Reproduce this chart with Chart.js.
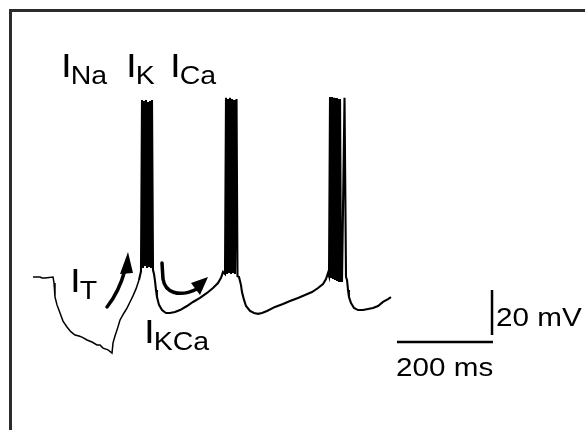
<!DOCTYPE html>
<html>
<head>
<meta charset="utf-8">
<script src="https://cdn.jsdelivr.net/npm/chart.js@4/dist/chart.umd.min.js"></script>
<style>
  body { margin: 0; background: #fff; }
  #wrap { position: relative; width: 585px; height: 430px; overflow: hidden; }
</style>
</head>
<body>
<div id="wrap"><canvas id="trace" width="585" height="430"></canvas></div>
<script>
// membrane potential trace (time in ms, potential in mV)
const timeMs = [
  0, 14.6, 18.8, 25, 41.7, 43.8, 45.8, 50, 56.3, 62.5, 70.8, 79.2, 87.5, 95.8, 102.1,
  112.5, 122.9, 133.3, 139.6, 145.8, 156.3, 164.6,
  166.7, 170.8, 175, 181.3, 189.6, 195.8, 202.1, 208.3, 214.6, 220.8,
  // burst 1
  225, 227.1, 229.2, 231.3, 233.3, 235.4, 237.5, 239.6, 241.7, 243.8, 245.8, 247.9, 250,
  252.1, 254.2, 256.3, 258.3, 262.5, 268.8, 277.1, 285.4, 295.8, 306.3, 320.8,
  333.3, 347.9, 362.5, 375, 385.4, 391.7, 395.8,
  // burst 2
  400, 402.1, 404.2, 406.3, 408.3, 410.4, 412.5, 414.6, 416.7, 418.8, 420.8, 424, 426,
  429.2, 433.3, 435.4, 439.6, 443.8, 452.1, 460.4, 468.8, 477.1, 487.5, 504.2, 520.8,
  535.4, 552.1, 566.7, 581.3, 593.8, 604.2, 610.4, 614.6,
  // burst 3
  616.7, 618.8, 620.8, 622.9, 625, 627.1, 629.2, 631.3, 633.3, 635.4, 637.5, 639.6,
  641.7, 643.8, 649, 652.1,
  654.2, 656.3, 658.3, 662.5, 668.8, 677.1, 687.5, 697.9, 708.3, 718.8, 729.2, 739.6, 745.8
];
const voltageMv = [
  -60, -60, -60.4, -60.4, -60, -62.7, -68.9, -72.4, -76, -79.6, -82.2, -84.4, -85.8, -86.2, -86.7,
  -88, -88.9, -90.2, -90.2, -91.6, -92.4, -93.8,
  -89.3, -86.2, -83.6, -79.1, -76, -73.8, -71.1, -68.4, -65.3, -61.3,
  -57.5, 18.7, -56, 18.2, -55.1, 18.7, -56, 17.8, -55.6, 18.2, -56, 18.7, -56.9,
  -58.7, -61.8, -65.8, -68.9, -72.4, -74.7, -76, -76, -75.6, -74.7, -72.9,
  -71.1, -69.3, -67.1, -64.9, -62.7, -60.4, -57.8,
  -58.7, 19.6, -58.7, 19.1, -58.2, 19.6, -58.7, 19.1, -58.2, 18.7, -58.7, 19.1, -59.6,
  -60, -63.6, -66.7, -70.2, -72.9, -75.1, -76, -76.4, -76, -75.1, -73.3, -72,
  -70.7, -69.3, -68, -66.7, -64.9, -63.1, -60.9, -58.2,
  -59.6, 20, -60.4, 20, -60.9, 19.6, -61.3, 19.6, -61.8, 19.1, -62.2, 19.1,
  -61.8, -61.8, 19.6, -60,
  -61.3, -65.8, -68.9, -71.6, -73.8, -74.7, -74.7, -74.2, -73.8, -72.9, -71.1, -69.8, -68.9
];

// scale bars
const barTimeMs = [758.3, 958.3];     // 200 ms
const barTimeLevelMv = [-88.9, -88.9];
const barVoltMs = [956.3, 956.3];
const barVoltMv = [-65.8, -85.8];     // 20 mV

const toPoints = (xs, ys) => xs.map((x, i) => ({ x: x, y: ys[i] }));

const font = '"Liberation Sans", Arial, Helvetica, sans-serif';
const stretch = 1.14; // the lettering of the figure is a bit wide

// labels and arrows on top of the trace
const annotations = {
  id: 'annotations',
  afterDraw(chart) {
    const ctx = chart.ctx;
    ctx.save();

    // frame
    ctx.strokeStyle = '#2b2b2b';
    ctx.lineWidth = 3;
    ctx.beginPath();
    ctx.moveTo(10.5, 440);
    ctx.lineTo(10.5, 10.5);
    ctx.lineTo(600, 10.5);
    ctx.stroke();

    ctx.fillStyle = '#000';
    function text(str, size, x, y) {
      ctx.save();
      ctx.font = size + 'px ' + font;
      ctx.translate(x, y);
      ctx.scale(stretch, 1);
      ctx.fillText(str, 0, 0);
      const w = ctx.measureText(str).width * stretch;
      ctx.restore();
      return w;
    }
    function current(sub, x, y) {
      const w = text('I', 34, x, y);
      text(sub, 25, x + w - 1, y + 6.5);
    }
    current('Na', 61, 77);
    current('K', 126, 77);
    current('Ca', 170, 77);
    current('T', 70, 292);
    current('KCa', 144, 343);

    text('20 mV', 26, 496, 326);
    text('200 ms', 26, 396, 376);

    // arrows
    ctx.strokeStyle = '#000';
    ctx.lineWidth = 3.5;
    ctx.lineCap = 'round';
    ctx.beginPath();
    ctx.moveTo(107, 307);
    ctx.quadraticCurveTo(119, 292, 125, 270);
    ctx.stroke();
    ctx.beginPath();
    ctx.moveTo(128, 252);
    ctx.lineTo(120, 274);
    ctx.lineTo(133, 273);
    ctx.closePath();
    ctx.fill();

    ctx.beginPath();
    ctx.moveTo(162, 263);
    ctx.lineTo(163, 279);
    ctx.bezierCurveTo(165, 292, 178, 298, 197, 289);
    ctx.stroke();
    ctx.beginPath();
    ctx.moveTo(208, 277);
    ctx.lineTo(191, 283);
    ctx.lineTo(200, 295);
    ctx.closePath();
    ctx.fill();

    ctx.restore();
  }
};

new Chart(document.getElementById('trace'), {
  type: 'line',
  data: {
    datasets: [
      {
        data: toPoints(timeMs, voltageMv), borderColor: '#000', borderWidth: 2,
        // the hyperpolarised part of the trace is drawn finer in the figure
        segment: { borderWidth: c => (c.p1.parsed.x <= 220.8 ? 1.5 : 2.1) }
      },
      { data: toPoints(barTimeMs, barTimeLevelMv), borderColor: '#000', borderWidth: 2.5 },
      { data: toPoints(barVoltMs, barVoltMv), borderColor: '#000', borderWidth: 2.5 }
    ]
  },
  options: {
    responsive: false,
    animation: false,
    layout: { padding: 0 },
    elements: { point: { radius: 0 }, line: { tension: 0 } },
    plugins: { legend: { display: false }, tooltip: { enabled: false } },
    scales: {
      x: { type: 'linear', min: -68.75, max: 1150, display: false },
      y: { type: 'linear', min: -128, max: 63.1, display: false }
    }
  },
  plugins: [annotations]
});
</script>
</body>
</html>
